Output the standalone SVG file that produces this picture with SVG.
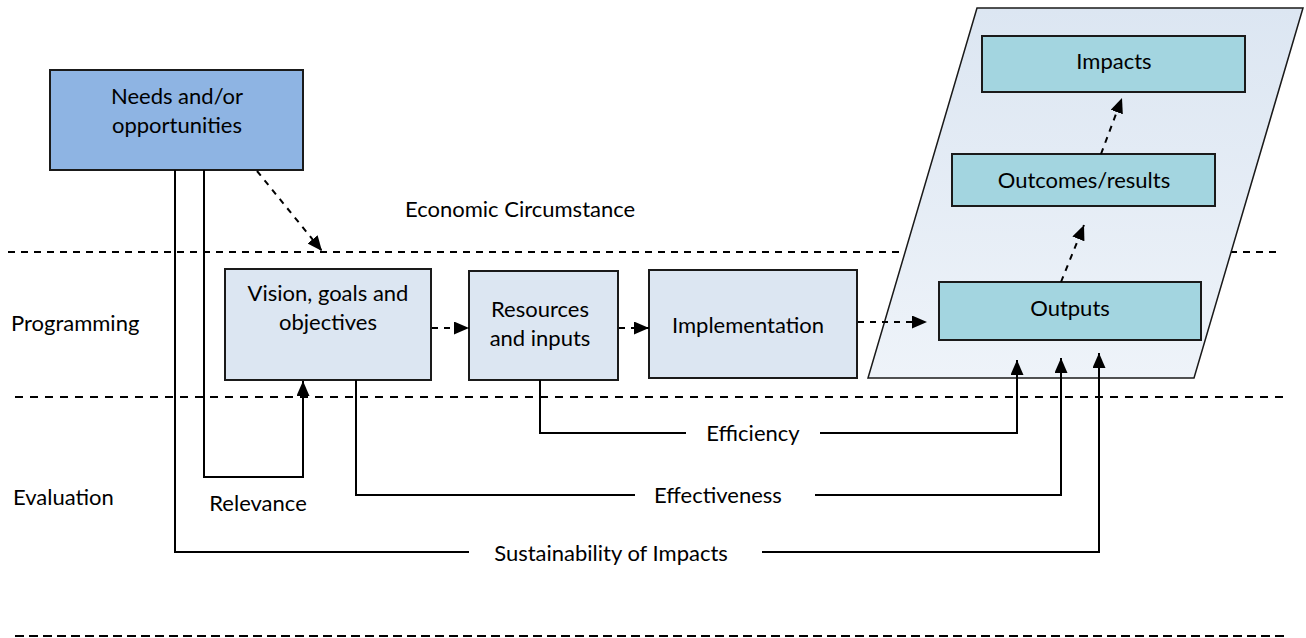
<svg xmlns="http://www.w3.org/2000/svg" width="1306" height="638" viewBox="0 0 1306 638">
  <style>
    text { font-family: Lato, "Open Sans", sans-serif; font-size: 22px; fill: #000; }
    .c { text-anchor: middle; }
    .box { stroke: #1a1a1a; stroke-width: 2; }
    .needs { fill: #8eb4e3; }
    .prog { fill: #dce6f2; }
    .res { fill: #a3d5e0; }
    .sep { stroke: #000; stroke-width: 2; fill: none; }
    .flow { stroke: #000; stroke-width: 2; fill: none; stroke-dasharray: 6 6; }
    .link { stroke: #000; stroke-width: 2; fill: none; }
  </style>
  <defs>
    <linearGradient id="paraFill" x1="0" y1="0" x2="0" y2="1">
      <stop offset="0" stop-color="#dce6f2"/>
      <stop offset="1" stop-color="#eef3f9"/>
    </linearGradient>
    <marker id="head" viewBox="0 0 15 13" refX="15" refY="6.5" markerWidth="15" markerHeight="13" markerUnits="userSpaceOnUse" orient="auto">
      <path d="M0,0 L15,6.5 L0,13 Z" fill="#000"/>
    </marker>
  </defs>

  <!-- band separators -->
  <g id="separators">
    <line class="sep" x1="8" y1="252" x2="1276" y2="252" stroke-dasharray="7 6"/>
    <line class="sep" x1="15" y1="397" x2="1286" y2="397" stroke-dasharray="8 7"/>
    <line class="sep" x1="15" y1="636" x2="1286" y2="636" stroke-dasharray="9 5"/>
  </g>

  <!-- band labels -->
  <g id="labels">
    <text x="405" y="217">Economic Circumstance</text>
    <text x="11" y="331">Programming</text>
    <text x="13" y="505">Evaluation</text>
  </g>

  <!-- results panel -->
  <g id="results-panel">
    <polygon points="977,8 1303,8 1194,378 868,378" fill="url(#paraFill)" stroke="#1a1a1a" stroke-width="1.5"/>
  </g>

  <g id="needs">
    <rect class="box needs" x="50" y="70" width="253" height="100"/>
    <text class="c" x="177" y="104">Needs and/or</text>
    <text class="c" x="177" y="133">opportunities</text>
  </g>

  <g id="vision">
    <rect class="box prog" x="225" y="269" width="206" height="111"/>
    <text class="c" x="328" y="301">Vision, goals and</text>
    <text class="c" x="328" y="330">objectives</text>
  </g>

  <g id="resources">
    <rect class="box prog" x="469" y="271" width="149" height="109"/>
    <text class="c" x="540" y="317">Resources</text>
    <text class="c" x="540" y="346">and inputs</text>
  </g>

  <g id="implementation">
    <rect class="box prog" x="649" y="270" width="208" height="108"/>
    <text class="c" x="748" y="333">Implementation</text>
  </g>

  <g id="outputs">
    <rect class="box res" x="939" y="282" width="262" height="58"/>
    <text class="c" x="1070" y="316">Outputs</text>
  </g>

  <g id="outcomes">
    <rect class="box res" x="952" y="154" width="263" height="52"/>
    <text class="c" x="1084" y="188">Outcomes/results</text>
  </g>

  <g id="impacts">
    <rect class="box res" x="982" y="36" width="263" height="56"/>
    <text class="c" x="1114" y="69">Impacts</text>
  </g>

  <g id="connectors">
    <!-- programme logic (dashed) -->
    <line class="flow" x1="257" y1="171" x2="322" y2="251" marker-end="url(#head)"/>
    <line class="flow" x1="432" y1="328" x2="469" y2="328" marker-end="url(#head)"/>
    <line class="flow" x1="619" y1="328" x2="649" y2="328" marker-end="url(#head)"/>
    <line class="flow" x1="858" y1="322" x2="927" y2="322" marker-end="url(#head)"/>
    <line class="flow" x1="1061" y1="282" x2="1084" y2="225" marker-end="url(#head)"/>
    <line class="flow" x1="1101" y1="154" x2="1122" y2="98" marker-end="url(#head)"/>

    <!-- evaluation criteria (solid) -->
    <polyline class="link" points="204,170 204,477 303,477 303,381" marker-end="url(#head)"/>
    <polyline class="link" points="540,380 540,433 686,433"/>
    <polyline class="link" points="820,433 1017,433 1017,360" marker-end="url(#head)"/>
    <polyline class="link" points="356,380 356,495 635,495"/>
    <polyline class="link" points="815,495 1061,495 1061,358" marker-end="url(#head)"/>
    <polyline class="link" points="175,170 175,552 469,552"/>
    <polyline class="link" points="762,552 1099,552 1099,353" marker-end="url(#head)"/>

    <text class="c" x="258" y="511">Relevance</text>
    <text class="c" x="753" y="441">Efficiency</text>
    <text class="c" x="718" y="503">Effectiveness</text>
    <text class="c" x="611" y="561">Sustainability of Impacts</text>
  </g>
</svg>
